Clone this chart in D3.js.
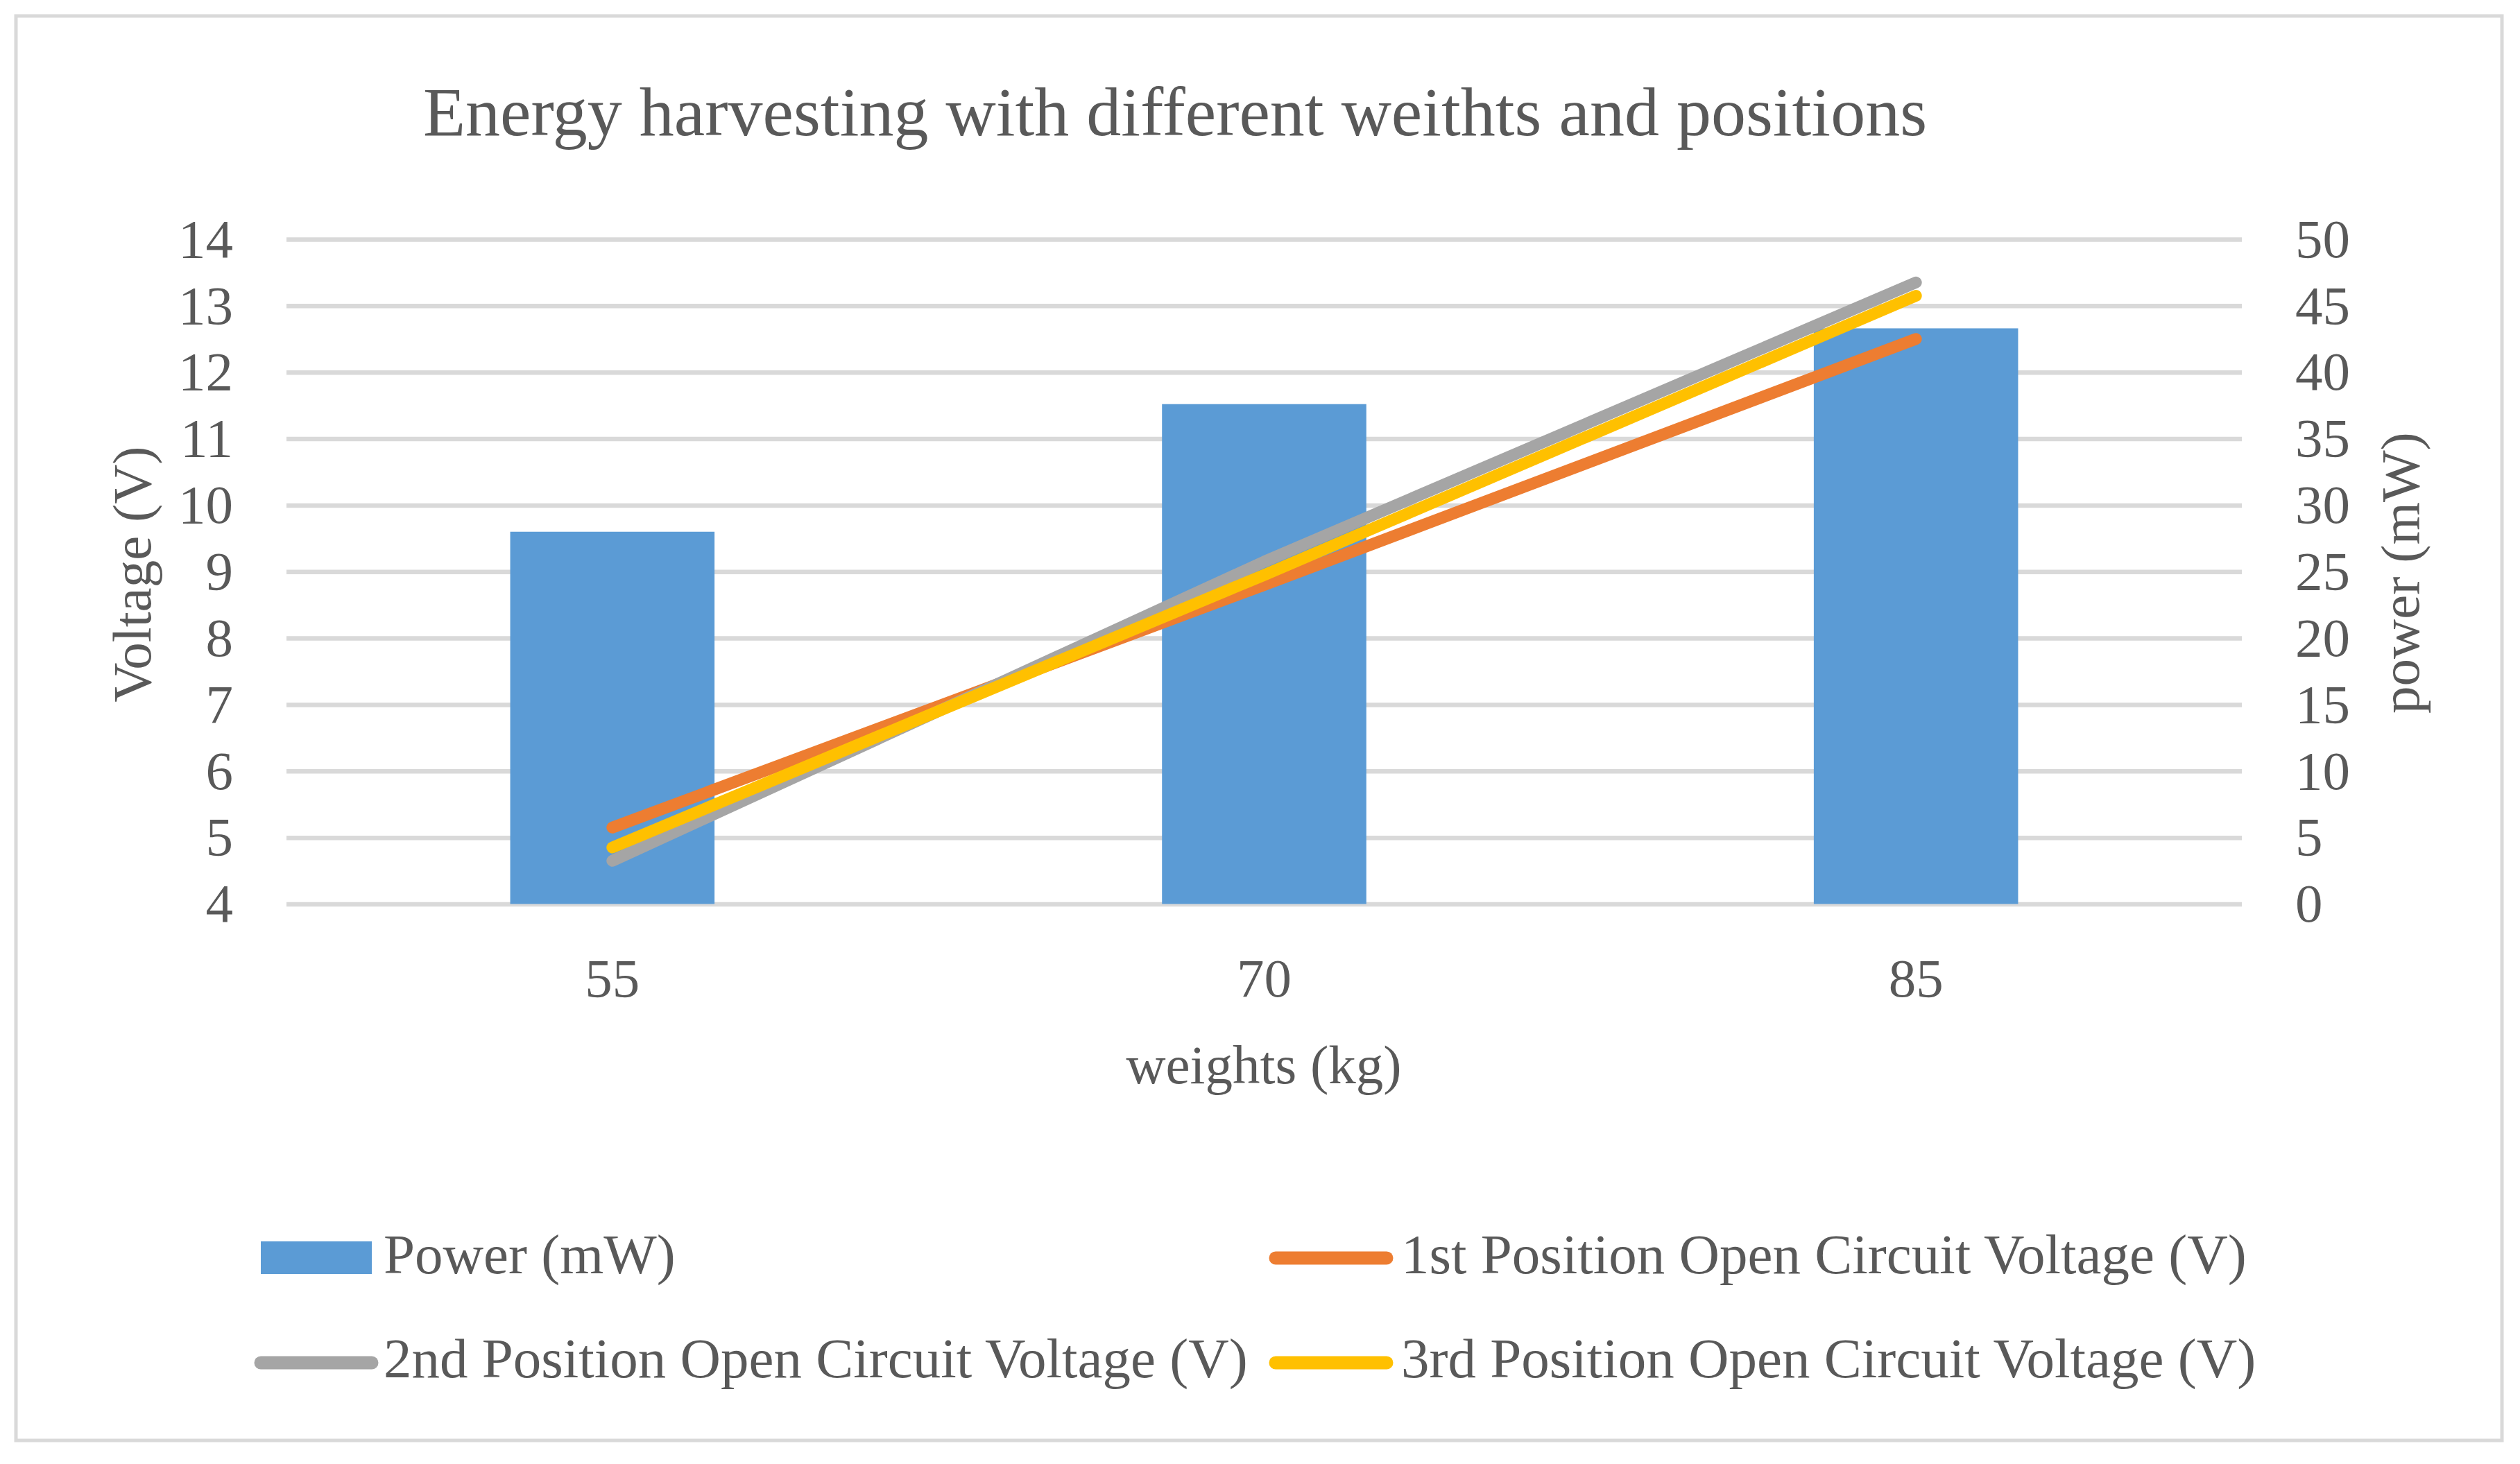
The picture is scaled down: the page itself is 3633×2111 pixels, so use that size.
<!DOCTYPE html>
<html>
<head>
<meta charset="utf-8">
<script src="https://cdn.jsdelivr.net/npm/d3@7"></script>
<style>
  body { margin: 0; background: #fff; }
  text { font-family: "Liberation Serif", serif; fill: #595959; }
</style>
</head>
<body>
<div id="chart"></div>
<script>
const weights = ["55", "70", "85"];
const power = [28.0, 37.6, 43.3];
const pos1 = [5.15, 8.8, 12.5];
const pos2 = [4.65, 9.15, 13.35];
const pos3 = [4.85, 8.95, 13.15];
const voltTicks = [4, 5, 6, 7, 8, 9, 10, 11, 12, 13, 14];
const powerTicks = [0, 5, 10, 15, 20, 25, 30, 35, 40, 45, 50];
const seriesNames = [
  "Power (mW)",
  "1st Position Open Circuit Voltage (V)",
  "2nd Position Open Circuit Voltage (V)",
  "3rd Position Open Circuit Voltage (V)"
];
const colors = ["#5b9bd5", "#ed7d31", "#a5a5a5", "#ffc000"];

const width = 3633;
const height = 2111;
const plot = { left: 413, right: 3232, top: 345, bottom: 1303.5 };

const svg = d3.select("#chart").append("svg")
  .attr("width", width)
  .attr("height", height);

svg.append("rect")
  .attr("x", 23).attr("y", 23)
  .attr("width", 3584).attr("height", 2054)
  .attr("fill", "#fff")
  .attr("stroke", "#d9d9d9")
  .attr("stroke-width", 5);

svg.append("text")
  .attr("x", 1694).attr("y", 195)
  .attr("text-anchor", "middle")
  .style("font-size", "100px")
  .text("Energy harvesting with different weithts and positions");

const x = d3.scaleBand()
  .domain(weights)
  .range([plot.left, plot.right]);

const yVolt = d3.scaleLinear()
  .domain([4, 14])
  .range([plot.bottom, plot.top]);

const yPower = d3.scaleLinear()
  .domain([0, 50])
  .range([plot.bottom, plot.top]);

// gridlines
svg.append("g")
  .attr("transform", `translate(${plot.left},0)`)
  .call(d3.axisLeft(yVolt).tickValues(voltTicks).tickSize(-(plot.right - plot.left)).tickFormat(""))
  .call(g => g.select(".domain").remove())
  .call(g => g.selectAll("line").attr("stroke", "#d9d9d9").attr("stroke-width", 6.5));

// bars
const barW = x.bandwidth() / 3.19;
svg.append("g")
  .selectAll("rect")
  .data(weights)
  .enter()
  .append("rect")
  .attr("x", d => x(d) + x.bandwidth() / 2 - barW / 2)
  .attr("y", (d, i) => yPower(power[i]))
  .attr("width", barW)
  .attr("height", (d, i) => yPower(0) - yPower(power[i]))
  .attr("fill", colors[0]);

// lines
const line = d3.line()
  .x((d, i) => x(weights[i]) + x.bandwidth() / 2)
  .y(d => yVolt(d));

[pos1, pos2, pos3].forEach((s, k) => {
  svg.append("path")
    .datum(s)
    .attr("fill", "none")
    .attr("stroke", colors[k + 1])
    .attr("stroke-width", 17)
    .attr("stroke-linecap", "round")
    .attr("stroke-linejoin", "round")
    .attr("d", line);
});

// axes
const tickFont = "79px";
svg.append("g")
  .attr("transform", `translate(${plot.left},0)`)
  .call(d3.axisLeft(yVolt).tickValues(voltTicks).tickSize(0).tickPadding(77))
  .call(g => g.select(".domain").remove())
  .selectAll("text").style("font-size", tickFont).attr("fill", "#595959");

svg.append("g")
  .attr("transform", `translate(${plot.right},0)`)
  .call(d3.axisRight(yPower).tickValues(powerTicks).tickSize(0).tickPadding(77))
  .call(g => g.select(".domain").remove())
  .selectAll("text").style("font-size", tickFont).attr("fill", "#595959");

svg.append("g")
  .attr("transform", `translate(0,${plot.bottom})`)
  .call(d3.axisBottom(x).tickSize(0).tickPadding(77))
  .call(g => g.select(".domain").remove())
  .selectAll("text").style("font-size", tickFont).attr("fill", "#595959");

// axis titles
svg.append("text")
  .attr("transform", "translate(217,828) rotate(-90)")
  .attr("text-anchor", "middle")
  .style("font-size", tickFont)
  .text("Voltage (V)");

svg.append("text")
  .attr("transform", "translate(3487,826) rotate(-90)")
  .attr("text-anchor", "middle")
  .style("font-size", tickFont)
  .text("power (mW)");

svg.append("text")
  .attr("x", 1822).attr("y", 1562)
  .attr("text-anchor", "middle")
  .style("font-size", tickFont)
  .text("weights (kg)");

// legend
const legendItems = [
  { sx: 367, tx: 553, y: 1814, base: 1836 },
  { sx: 1830, tx: 2020, y: 1814, base: 1836 },
  { sx: 367, tx: 553, y: 1965, base: 1986 },
  { sx: 1830, tx: 2020, y: 1965, base: 1986 }
];
const legend = svg.append("g");
legendItems.forEach((p, i) => {
  if (i === 0) {
    legend.append("rect")
      .attr("x", 376).attr("y", 1790)
      .attr("width", 160).attr("height", 47)
      .attr("fill", colors[0]);
  } else {
    legend.append("line")
      .attr("x1", p.sx + 9).attr("x2", p.sx + 169)
      .attr("y1", p.y).attr("y2", p.y)
      .attr("stroke", colors[i])
      .attr("stroke-width", 19)
      .attr("stroke-linecap", "round");
  }
  legend.append("text")
    .attr("x", p.tx).attr("y", p.base)
    .style("font-size", "81px")
    .text(seriesNames[i]);
});
</script>
</body>
</html>
